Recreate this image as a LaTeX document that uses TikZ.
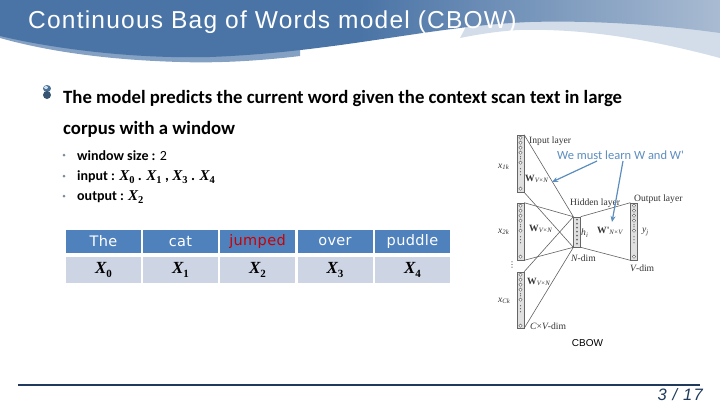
\documentclass[tikz,border=0pt]{standalone}
\usepackage{fontspec}
\setmainfont{Liberation Sans}
\newfontfamily\bodyf{Carlito}
\newfontfamily\tablef[LetterSpace=2.5]{DejaVu Sans}
\newfontfamily\titlef[LetterSpace=5]{Liberation Sans}
\newfontfamily\pagef[LetterSpace=8]{Liberation Sans}
\newfontfamily\serf{Liberation Serif}
\newfontfamily\symf{DejaVu Sans}
\usetikzlibrary{arrows.meta,calc}
\definecolor{hdrA}{HTML}{4A74A6}
\definecolor{hdrB}{HTML}{6E8FB8}
\definecolor{hdrC}{HTML}{A9BBD2}
\definecolor{bandL}{HTML}{D3DDE9}
\definecolor{cellA}{HTML}{4F81BD}
\definecolor{cellB}{HTML}{CDD4E4}
\definecolor{notec}{HTML}{5B8DBE}
\definecolor{footc}{HTML}{1F3A5C}
\pgfdeclarehorizontalshading{hdrshade}{100bp}{color(0bp)=(hdrA);color(25bp)=(hdrA);color(50bp)=(hdrA);color(75bp)=(hdrC);color(100bp)=(hdrC)}
\newcommand{\XB}[1]{{\serf\bfseries\itshape X}\raisebox{-0.22em}{\fontsize{11}{12}\selectfont\serf\bfseries #1}}
\newcommand{\XR}[1]{{\serf\itshape X}\raisebox{-0.22em}{\fontsize{10.5}{12}\selectfont\serf #1}}
\newcommand{\XS}[1]{{\serf\bfseries\itshape X}\raisebox{-0.22em}{\fontsize{10.5}{12}\selectfont\serf\bfseries #1}}
\newcommand{\neurons}[1]{%
  \foreach \d in {3,8,13,18,28,54} {\draw[neuron] ($(#1.north)+(0,\d)$) circle (1.7pt);}
  \foreach \d in {22,24,34,37,40} {\fill[black!65] ($(#1.north)+(0,\d)$) circle (.6pt);}
}
\tikzset{
  x=1pt,y=-1pt,
  headcell/.style={draw=none,fill=cellA,text=white,minimum width=75pt,minimum height=23pt,inner sep=0pt,font=\tablef\fontsize{14.5}{16}\selectfont},
  subcell/.style={draw=none,fill=cellB,text=black,minimum width=75pt,minimum height=26pt,inner sep=0pt,font=\fontsize{17}{19}\selectfont},
  bodytext/.style={anchor=base west,inner sep=0pt,font=\bodyf\bfseries\fontsize{18.75}{22}\selectfont},
  subtext/.style={anchor=base west,inner sep=0pt,font=\bodyf\bfseries\fontsize{14}{17}\selectfont},
  dotb/.style={circle,fill=black!35!notec,opacity=.7,inner sep=0pt,minimum size=3pt},
  layerbox/.style={draw=black!60,fill=black!12,line width=.6pt,minimum width=6.7pt,inner sep=0pt},
  neuron/.style={draw=black!60,fill=white,line width=.4pt},
  netline/.style={draw=black!62,line width=.6pt},
  netlabel/.style={inner sep=0pt,font=\serf\fontsize{9.6}{11}\selectfont,text=black!80},
  notearrow/.style={draw=notec,line width=1.2pt,-{Stealth[length=6pt,width=5pt]}},
}
\begin{document}
\begin{tikzpicture}
\useasboundingbox (0,0) rectangle (720,405);
% header
\fill[bandL] (480,0) -- (720,0) -- (720,58) .. controls (660,42) and (590,28) .. (519,30) .. controls (500,31) and (480,34) .. (460,38) -- cycle;
\fill[hdrB!85!white] (0,36) -- (300,40) -- (300,56) .. controls (250,62) and (210,63) .. (180,62) .. controls (110,60) and (50,52) .. (0,38) -- cycle;
\path[shading=hdrshade] (0,0) -- (720,0) -- (720,33) .. controls (670,26) and (600,20) .. (530,22) .. controls (430,26) and (340,52) .. (210,57) .. controls (130,59) and (50,48) .. (0,36) -- cycle;
\node[anchor=base west,inner sep=0pt,text=white,font=\titlef\fontsize{24.5}{27}\selectfont] (title) at (28,28) {Continuous Bag of Words model (CBOW)};
% bullet
\fill[notec!80!black] (47,88.5) ellipse (4pt and 3.5pt);
\fill[notec!60!black] (47,95) ellipse (4pt and 4pt);
\fill[white!70!notec] (46,87.5) ellipse (2pt and 1.5pt);
% body
\node[bodytext] (l1) at (63,103) {The model predicts the current word given the context scan text in large};
\node[bodytext] (l2) at (63,134) {corpus with a window};
\node[dotb] (d1) at (64,155) {};
\node[dotb] (d2) at (64,176) {};
\node[dotb] (d3) at (64,196) {};
\node[subtext] (s1) at (77,160) {window size : {\mdseries 2}};
\node[subtext] (s2) at (77,180.5) {input : \fontsize{15}{17}\selectfont\XR{0} . \XS{1} , \XR{3} . \XR{4}};
\node[subtext] (s3) at (77,200) {output : \fontsize{15}{17}\selectfont\XR{2}};
% table
\node[headcell] (h0) at (103.5,241.5) {The};
\node[headcell] (h1) at (180.5,241.5) {cat};
\node[headcell,text=red!80!black] (h2) at (257.5,241.5) {jumped};
\node[headcell] (h3) at (335,241.5) {over};
\node[headcell] (h4) at (412.5,241.5) {puddle};
\node[subcell] (c0) at (103.5,270) {\XB{0}};
\node[subcell] (c1) at (180.5,270) {\XB{1}};
\node[subcell] (c2) at (257.5,270) {\XB{2}};
\node[subcell] (c3) at (335,270) {\XB{3}};
\node[subcell] (c4) at (412.5,270) {\XB{4}};
% network layers
\node[layerbox,minimum height=57pt] (in1) at (520.5,163.5) {};
\node[layerbox,minimum height=57pt] (in2) at (520.5,231.5) {};
\node[layerbox,minimum height=56pt] (in3) at (520.5,300) {};
\node[layerbox,minimum height=30pt] (hid) at (577,232) {};
\node[layerbox,minimum height=57pt] (outl) at (634,231.5) {};
\neurons{in1}
\neurons{in2}
\neurons{in3}
\neurons{outl}
\foreach \d in {3,7,11,15,19,23,27} {\fill[black!60] ($(hid.north)+(0,\d)$) circle (1pt);}
% connections
\draw[netline] (in1.north east) -- (hid.north west);
\draw[netline] (in1.south east) -- (hid.south west);
\draw[netline] (in2.north east) -- (hid.north west);
\draw[netline] (in2.south east) -- (hid.south west);
\draw[netline] (in3.north east) -- (hid.north west);
\draw[netline] (in3.south east) -- (hid.south west);
\draw[netline] (hid.north east) -- (outl.north west);
\draw[netline] (hid.south east) -- (outl.south west);
% labels
\node[netlabel,anchor=west] (t1) at (529,141) {Input layer};
\node[netlabel,anchor=west] (t2) at (570,203) {Hidden layer};
\node[netlabel,anchor=west] (t3) at (634,199) {Output layer};
\node[netlabel,anchor=west] (t4) at (571,258) {\itshape N\upshape-dim};
\node[netlabel,anchor=west] (t5) at (630,268) {\itshape V\upshape-dim};
\node[netlabel,anchor=west] (t6) at (530,326) {\itshape C\upshape×\itshape V\upshape-dim};
\node[netlabel,anchor=west] (x1) at (498,167) {\itshape x\textsubscript{1k}};
\node[netlabel,anchor=west] (x2) at (498,232) {\itshape x\textsubscript{2k}};
\node[netlabel,anchor=west] (x3) at (498,301) {\itshape x\textsubscript{Ck}};
\node[netlabel,anchor=west] (y1) at (642,232) {\itshape y\textsubscript{j}};
\node[netlabel,anchor=west] (hh) at (581,233) {\itshape h\textsubscript{i}};
\node[netlabel,anchor=west] (w1) at (525,179) {\bfseries W\textsubscript{\mdseries\itshape V×N}};
\node[netlabel,anchor=west] (w2) at (529,229) {\bfseries W\textsubscript{\mdseries\itshape V×N}};
\node[netlabel,anchor=west] (w3) at (527,282) {\bfseries W\textsubscript{\mdseries\itshape V×N}};
\node[netlabel,anchor=west] (w4) at (597,231) {\bfseries W'\textsubscript{\mdseries\itshape N×V}};
\node[netlabel] (vd) at (512,265) {\symf\fontsize{8}{9}\selectfont ⋮};
% note
\node[anchor=base west,inner sep=0pt,text=notec,font=\bodyf\fontsize{12.5}{15}\selectfont] (note) at (557,159) {We must learn W and W'};
\coordinate (na) at (597,161);
\coordinate (nb) at (623,161);
\coordinate (ta) at (552,182);
\coordinate (tb) at (612,222);
\draw[notearrow] (na) -- (ta);
\draw[notearrow] (nb) -- (tb);
\node[anchor=base,inner sep=0pt,font=\fontsize{10}{12}\selectfont] (cb) at (587.5,346) {CBOW};
% footer
\coordinate (fa) at (18,384.5);
\coordinate (fb) at (700,384.5);
\draw[footc,line width=2pt] (fa) -- (fb);
\node[anchor=base east,inner sep=0pt,text=footc,font=\pagef\itshape\fontsize{16.5}{18}\selectfont] (pg) at (703,400) {3 / 17};
\end{tikzpicture}
\end{document}
